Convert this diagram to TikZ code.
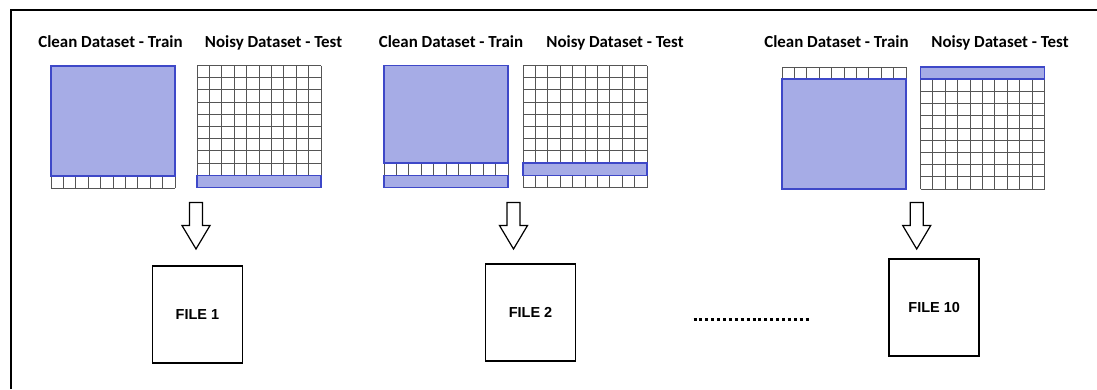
\documentclass[tikz,border=0pt]{standalone}
\usepackage{fontspec}
\setmainfont{Carlito}
\newfontfamily\filefont{Liberation Sans}
\definecolor{splitfill}{RGB}{166,172,230}
\definecolor{splitedge}{RGB}{62,72,200}
\definecolor{gridgrey}{RGB}{85,85,85}
\tikzset{
  settitle/.style={font=\bfseries\fontsize{16.9}{19}\selectfont, anchor=base, inner sep=0pt},
  gridline/.style={draw=gridgrey, line width=1pt},
  part/.style={draw=splitedge, fill=splitfill, line width=1.6pt, inner sep=0pt,
               outer sep=0pt, anchor=north west, minimum width=124pt},
  filebox/.style={draw=black, line width=1.8pt, minimum width=90pt, minimum height=97pt,
                  inner sep=0pt, font=\filefont\bfseries\fontsize{14.5}{16}\selectfont},
  blockarrow/.style={draw=black, line width=1.2pt, fill=white, line join=miter},
}
% 10 x 10 cell grid with its top left corner at (#1,#2)
\newcommand\drawcellgrid[2]{%
  \foreach \i in {0,...,10}{%
    \draw[gridline] ({#1+\i*12.4},#2) -- ({#1+\i*12.4},{#2+122});
    \draw[gridline] (#1,{#2+\i*12.2}) -- ({#1+124},{#2+\i*12.2});
  }}
% hollow down arrow centred on x = #1
\newcommand\downblockarrow[1]{%
  \draw[blockarrow] ({#1-6.5},202.5) -- ({#1+6.5},202.5) -- ({#1+6.5},225.5)
    -- ({#1+14},225.5) -- (#1,249) -- ({#1-14},225.5) -- ({#1-6.5},225.5) -- cycle;}
\begin{document}
\begin{tikzpicture}[x=1pt, y=-1pt]
  \useasboundingbox (0,0) rectangle (1097,389);
  % outer frame (left and top edges)
  \draw[line width=2pt] (10.5,389) -- (10.5,10.3) -- (1097,10.3);

  % ---- split 1 ----
  \node[settitle] (t1a) at (110.5,47) {Clean Dataset - Train};
  \node[settitle] (t1b) at (273.5,47) {Noisy Dataset - Test};
  \drawcellgrid{51}{66}
  \node[part, minimum height=109.8pt] (c1) at (51,66) {};
  \drawcellgrid{197}{65.5}
  \node[part, minimum height=12.2pt] (n1) at (197,175.3) {};

  % ---- split 2 ----
  \node[settitle] (t2a) at (451,47) {Clean Dataset - Train};
  \node[settitle] (t2b) at (615,47) {Noisy Dataset - Test};
  \drawcellgrid{384}{65.5}
  \node[part, minimum height=97.6pt] (c2) at (384,65.5) {};
  \node[part, minimum height=12.2pt] (c2b) at (384,175.3) {};
  \drawcellgrid{523}{65.5}
  \node[part, minimum height=12.2pt] (n2) at (523,163.1) {};

  % ---- split 10 ----
  \node[settitle] (t3a) at (836.5,47) {Clean Dataset - Train};
  \node[settitle] (t3b) at (1000,47) {Noisy Dataset - Test};
  \drawcellgrid{782}{67}
  \node[part, minimum height=109.8pt] (c3) at (782,79.2) {};
  \drawcellgrid{920.5}{67}
  \node[part, minimum height=12.2pt] (n3) at (920.5,67) {};

  % arrows down to the output files
  \downblockarrow{196}
  \downblockarrow{513.5}
  \downblockarrow{916.7}

  \node[filebox] (f1) at (197.5,314.7) {FILE 1};
  \node[filebox] (f2) at (530.5,312.7) {FILE 2};
  \node[filebox] (f3) at (934.2,307.2) {FILE 10};

  % ellipsis between the second and last file
  \coordinate (d0) at (693.5,319);
  \coordinate (d1) at (811,319);
  \draw[line width=3pt, dash pattern=on 3pt off 2.9pt] (d0) -- (d1);
\end{tikzpicture}
\end{document}
